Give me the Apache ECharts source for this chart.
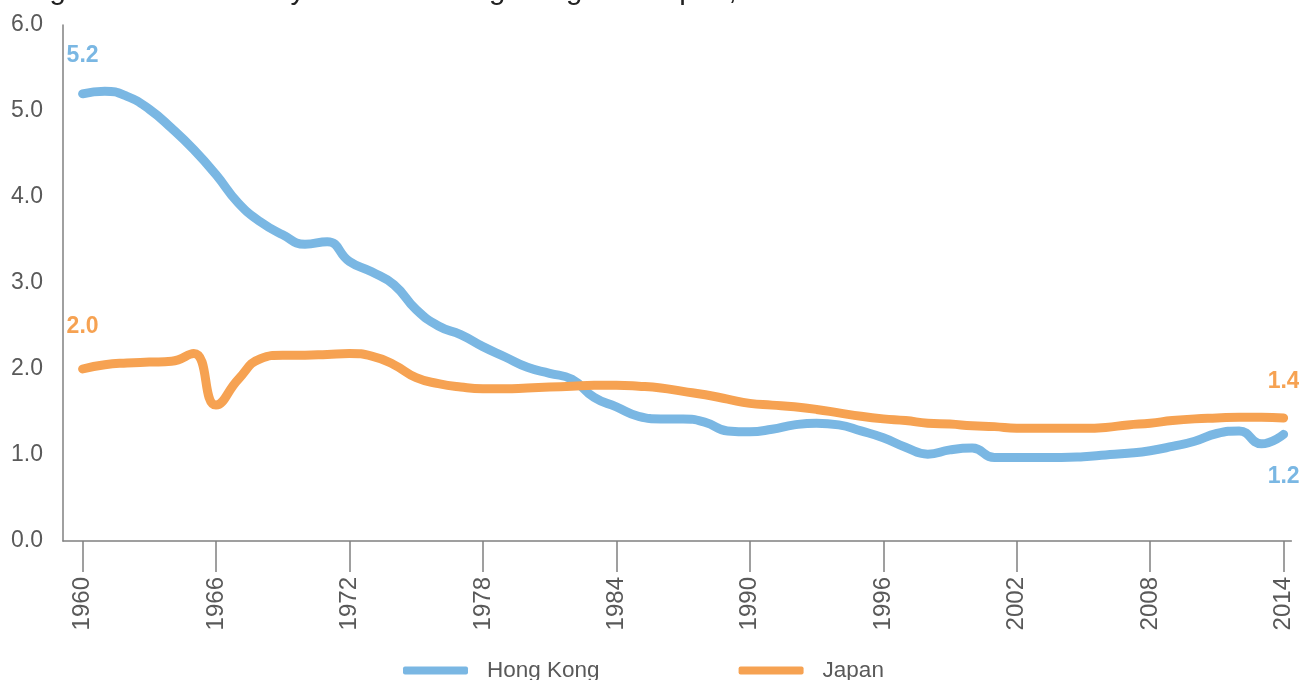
<!DOCTYPE html>
<html>
<head>
<meta charset="utf-8">
<script src="https://cdn.jsdelivr.net/npm/echarts@6/dist/echarts.min.js"></script>
<style>
html,body{margin:0;padding:0;background:#fff;}
#main{width:1299px;height:680px;}
</style>
</head>
<body>
<div id="main"></div>
<script>
var titleText = 'Figure 1: Total fertility trends in Hong Kong and Japan, 1960\u20132014';
var seriesNames = ['Hong Kong', 'Japan'];
var years = [];
for (var yr = 1960; yr <= 2014; yr++) years.push(yr);
var tickYears = [1960, 1966, 1972, 1978, 1984, 1990, 1996, 2002, 2008, 2014];

var hongKong = [
  5.20, 5.23, 5.17, 5.02, 4.80, 4.55, 4.26, 3.93, 3.71, 3.56,
  3.45, 3.48, 3.25, 3.13, 2.98, 2.69, 2.50, 2.40, 2.26, 2.14,
  2.02, 1.95, 1.88, 1.67, 1.56, 1.45, 1.42, 1.42, 1.38, 1.28,
  1.27, 1.30, 1.35, 1.37, 1.35, 1.28, 1.20, 1.09, 1.01, 1.06,
  1.08, 0.97, 0.97, 0.97, 0.97, 0.98, 1.00, 1.02, 1.05, 1.10,
  1.16, 1.25, 1.28, 1.13, 1.24
];
var japan = [
  2.00, 2.05, 2.07, 2.08, 2.09, 2.18, 1.58, 1.88, 2.12, 2.16,
  2.16, 2.17, 2.18, 2.15, 2.05, 1.90, 1.83, 1.79, 1.77, 1.77,
  1.78, 1.79, 1.80, 1.81, 1.81, 1.80, 1.78, 1.74, 1.70, 1.65,
  1.60, 1.58, 1.56, 1.53, 1.49, 1.45, 1.42, 1.40, 1.37, 1.36,
  1.34, 1.33, 1.31, 1.31, 1.31, 1.31, 1.32, 1.35, 1.37, 1.40,
  1.42, 1.43, 1.44, 1.44, 1.43
];
var colors = ['#7ab7e3', '#f6a252'];

// label placement: [position, distance] for the first and last points
function buildData(vals, startCfg, endCfg) {
  return vals.map(function (v, i) {
    var item = { value: [years[i], v] };
    var cfg = null;
    if (i === 0) cfg = startCfg;
    if (i === vals.length - 1) cfg = endCfg;
    if (cfg) {
      item.label = { show: true, position: cfg[0], distance: cfg[1] };
    }
    return item;
  });
}

var chart = echarts.init(document.getElementById('main'), null, { renderer: 'canvas' });
var FONT = 'Liberation Sans, Arial, sans-serif';
function makeLabel(color) {
  return {
    show: false,
    color: color,
    fontFamily: FONT,
    fontSize: 23,
    fontWeight: 'bold',
    formatter: function (p) { return p.value[1].toFixed(1); }
  };
}
chart.setOption({
  animation: false,
  color: colors,
  title: {
    text: titleText,
    left: 20,
    top: -29,
    textStyle: { fontFamily: FONT, fontSize: 29.5, fontWeight: 'normal', color: '#222' }
  },
  grid: { left: 63, right: 7.6, top: 25, bottom: 139, containLabel: false },
  legend: {
    data: seriesNames,
    top: 654,
    left: 398,
    icon: 'roundRect',
    itemWidth: 65,
    itemHeight: 8,
    itemGap: 139,
    textStyle: { fontFamily: FONT, fontSize: 22.5, color: '#595959', padding: [0, 0, 0, 14] }
  },
  xAxis: {
    type: 'value',
    min: 1959.12,
    max: 2014.35,
    axisLine: { show: true, lineStyle: { color: '#808080', width: 1.5 } },
    axisTick: { show: true, customValues: tickYears, length: 31, lineStyle: { color: '#808080', width: 1.5 } },
    axisLabel: {
      customValues: tickYears,
      rotate: 90,
      margin: 36,
      fontFamily: FONT,
      fontSize: 24,
      color: '#595959',
      formatter: function (v) { return String(v); }
    },
    splitLine: { show: false }
  },
  yAxis: {
    type: 'value',
    min: 0,
    max: 6,
    interval: 1,
    axisLine: { show: true, lineStyle: { color: '#808080', width: 1.5 } },
    axisTick: { show: false },
    axisLabel: {
      margin: 20,
      fontFamily: FONT,
      fontSize: 23,
      color: '#595959',
      formatter: function (v) { return v.toFixed(1); }
    },
    splitLine: { show: false }
  },
  series: [
    {
      name: seriesNames[0],
      type: 'line',
      smooth: 0.5,
      showSymbol: true,
      symbol: 'circle',
      symbolSize: 1,
      itemStyle: { color: colors[0] },
      lineStyle: { width: 9, color: colors[0], cap: 'round', join: 'round' },
      label: makeLabel(colors[0]),
      data: buildData(hongKong, ['top', 26], ['bottom', 30])
    },
    {
      name: seriesNames[1],
      type: 'line',
      smooth: 0.5,
      showSymbol: true,
      symbol: 'circle',
      symbolSize: 1,
      itemStyle: { color: colors[1] },
      lineStyle: { width: 9, color: colors[1], cap: 'round', join: 'round' },
      label: makeLabel(colors[1]),
      data: buildData(japan, ['top', 30], ['top', 24])
    }
  ]
});
</script>
</body>
</html>
